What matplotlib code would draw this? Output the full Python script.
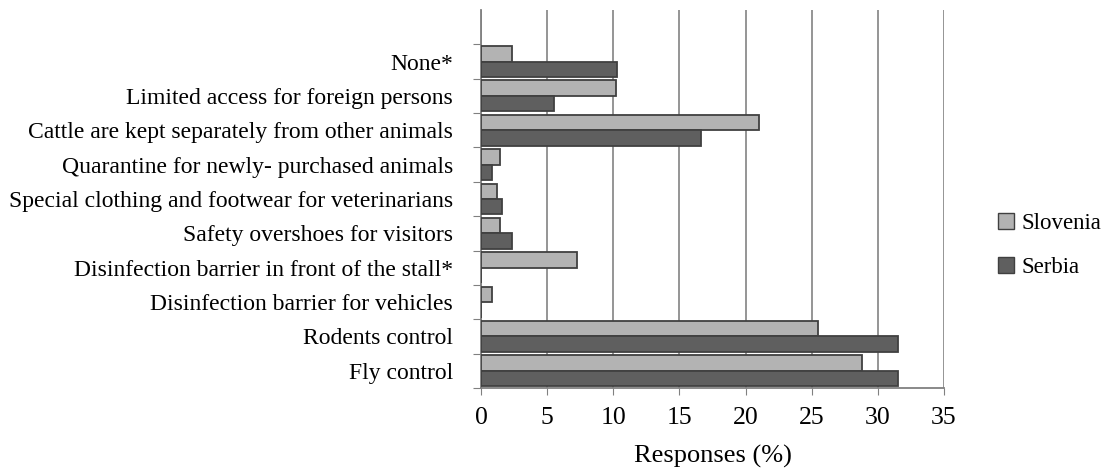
import numpy as np
import matplotlib.pyplot as plt
from matplotlib.patches import Patch

# Datos (de abajo hacia arriba)
categorias = ['Fly control', 'Rodents control', 'Disinfection barrier for vehicles',
              'Disinfection barrier in front of the stall*', 'Safety overshoes for visitors',
              'Special clothing and footwear for veterinarians', 'Quarantine for newly- purchased animals',
              'Cattle are kept separately from other animals', 'Limited access for foreign persons', 'None*']
slovenia = [28.8, 25.5, 0.8, 7.25, 1.45, 1.2, 1.45, 21.05, 10.2, 2.35]
serbia = [31.5, 31.5, 0.0, 0.0, 2.35, 1.6, 0.8, 16.6, 5.55, 10.3]

plt.rcParams['font.family'] = ['Liberation Serif', 'DejaVu Serif']

fig = plt.figure(figsize=(11.02, 4.72), dpi=100)
ax = fig.add_axes([481 / 1102, (472 - 388) / 472, (944 - 481) / 1102, (388 - 10) / 472])

y = np.arange(len(categorias))
h = 0.45
ax.barh(y + h / 2, slovenia, height=h, color='#b3b3b3', edgecolor='#404040', linewidth=1.3, zorder=3)
ax.barh(y - h / 2, serbia, height=h, color='#5f5f5f', edgecolor='#404040', linewidth=1.3, zorder=3)

ax.set_xlim(0, 35)
ax.set_ylim(-0.5, len(categorias) + 0.5)
ax.set_xticks(np.arange(0, 36, 5))
ax.tick_params(axis='x', labelsize=18.5, length=5, color='#808080', pad=9)
ax.xaxis.grid(True, color='#8c8c8c', linewidth=1.3, zorder=0)

# ticks en los limites de categoria, etiquetas centradas
ax.set_yticks(np.arange(-0.5, len(categorias), 1.0))
ax.set_yticklabels([])
ax.set_yticks(y, minor=True)
ax.set_yticklabels(categorias, minor=True, fontsize=17)
ax.tick_params(axis='y', which='major', length=6, color='#808080')
ax.tick_params(axis='y', which='minor', length=0, pad=20)

for s in ['top', 'right']:
    ax.spines[s].set_visible(False)
for s in ['left', 'bottom']:
    ax.spines[s].set_color('#808080')
    ax.spines[s].set_linewidth(1.3)

ax.set_xlabel('Responses (%)', fontsize=19, labelpad=11)

handles = [Patch(facecolor='#b3b3b3', edgecolor='#404040', label='Slovenia'),
           Patch(facecolor='#5f5f5f', edgecolor='#404040', label='Serbia')]
fig.legend(handles=handles, loc='center left', bbox_to_anchor=(0.906, 0.48), frameon=False,
           borderaxespad=0, borderpad=0,
           fontsize=16.5, handlelength=0.7, handleheight=0.7, handletextpad=0.3, labelspacing=1.0)

fig.savefig('out.png', dpi=100)
